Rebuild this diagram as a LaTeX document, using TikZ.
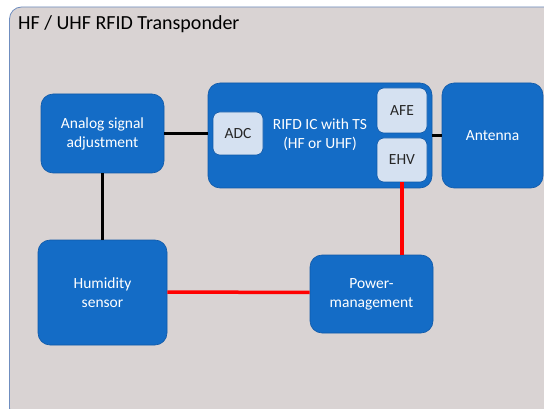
\documentclass[tikz,border=0pt]{standalone}
\usepackage{fontspec}
\setmainfont{Carlito}
\definecolor{bgc}{HTML}{D9D3D3}
\definecolor{framec}{HTML}{6F8DBF}
\definecolor{bluec}{HTML}{146CC6}
\definecolor{blueb}{HTML}{1059A8}
\definecolor{lightc}{HTML}{D5E1F1}
\definecolor{redc}{HTML}{FF0000}
\begin{document}
\begin{tikzpicture}[x=1pt,y=-1pt,
  blk/.style={draw=blueb,fill=bluec,rounded corners=12pt,line width=0.6pt,text=white,align=center,font=\fontsize{15.5}{19}\selectfont},
  sub/.style={draw=blueb,fill=lightc,rounded corners=7pt,line width=0.6pt,text=black!85,font=\fontsize{15.5}{19}\selectfont},
  blk line/.style={line width=3.5pt,black},
  red line/.style={line width=3.5pt,redc}]
\useasboundingbox (0,0) rectangle (544,409);
\path[draw=framec,fill=bgc,line width=0.8pt,rounded corners=12pt] (560,7) -- (9.5,7) -- (9.5,420) -- (560,420);
\node[anchor=west,inner sep=0pt,font=\fontsize{20}{24}\selectfont] (title) at (18,24) {HF / UHF RFID Transponder};
\node[blk,minimum width=123pt,minimum height=79pt] (asa) at (102.5,133.5) {Analog signal\\adjustment};
\node[blk,minimum width=224pt,minimum height=105pt] (ic) at (320,135.5) {};
\node[blk,minimum width=101pt,minimum height=105pt] (ant) at (492.5,135.5) {Antenna};
\node[blk,minimum width=129pt,minimum height=105pt] (hum) at (102.5,292.5) {Humidity\\sensor};
\node[blk,minimum width=123pt,minimum height=78pt] (pm) at (371.5,294) {Power-\\management};
\node[blk,draw=none,fill=none] (ictext) at (320,135) {RIFD IC with TS\\(HF or UHF)};
\node[sub,minimum width=50pt,minimum height=43pt] (adc) at (238,133.5) {ADC};
\node[sub,minimum width=50pt,minimum height=45pt] (afe) at (402,110.5) {AFE};
\node[sub,minimum width=50pt,minimum height=44pt] (ehv) at (402,160) {EHV};
\draw[blk line] (asa.east) -- (ic.west |- asa.east);
\draw[blk line] (asa.south) -- (hum.north);
\draw[blk line] (ic.east) -- (ant.west);
\draw[red line] (ehv.south) -- (ehv.south |- pm.north);
\draw[red line] ([yshift=0.5pt]hum.east) -- ([yshift=1.5pt]pm.west);
\end{tikzpicture}
\end{document}
